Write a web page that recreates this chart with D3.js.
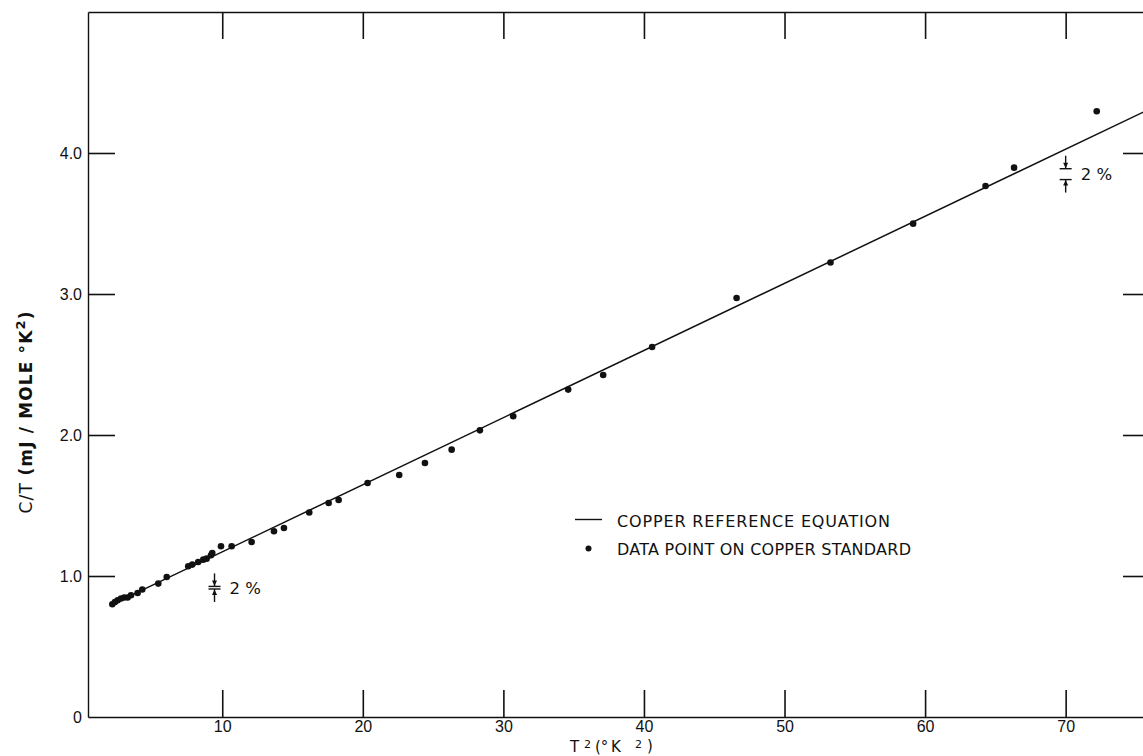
<!doctype html>
<html lang='en'>
<head>
    <meta charset='UTF-8'>
    <title>Copper C/T vs T2</title>
    <style>
        body{
            margin: 0;
            background: #fff;
        }
        svg{
            display: block;
            font-family: 'DejaVu Sans', sans-serif;
        }
        .axis path,
        .axis line{
            fill: none;
            stroke: #111;
            stroke-width: 1.4px;
        }
        .axis .tick line{
            stroke-width: 1.6px;
        }
        .tick text{
            font-size: 16px;
            fill: #111;
        }
        .ref{
            fill: none;
            stroke: #111;
            stroke-width: 1.5px;
        }
        .dot{
            fill: #111;
        }
        .note{
            fill: #111;
        }
    </style>
</head>
<body>
<script src='https://cdn.jsdelivr.net/npm/d3@7'></script>
<script>
  // data
  const t2 = [2.18, 2.37, 2.56, 2.80, 3.03, 3.27, 3.51, 3.98, 4.31, 5.45,
    6.05, 7.58, 7.87, 8.29, 8.65, 8.89, 9.20, 9.29, 9.91, 10.67,
    12.09, 13.68, 14.39, 16.19, 17.57, 18.28, 20.34, 22.59, 24.42, 26.32,
    28.33, 30.70, 34.61, 37.10, 40.58, 46.59, 53.27, 59.15, 64.30, 66.33, 72.21]
  const ct = [0.800, 0.816, 0.828, 0.840, 0.847, 0.847, 0.863, 0.879, 0.904, 0.946,
    0.993, 1.069, 1.081, 1.099, 1.116, 1.123, 1.147, 1.163, 1.211, 1.211,
    1.241, 1.317, 1.340, 1.450, 1.518, 1.539, 1.660, 1.716, 1.801, 1.896,
    2.033, 2.133, 2.322, 2.426, 2.624, 2.972, 3.223, 3.499, 3.766, 3.896, 4.296]

  // copper reference equation, end points
  const refT2 = [2.1, 76]
  const refCT = [0.795, 4.313]

  // 2 % scale markers
  const markT2 = [9.45, 70]
  const markCT = [0.917, 3.85]

  const xTicks = [10, 20, 30, 40, 50, 60, 70]
  const yTicks = [0, 1, 2, 3, 4]
  const yTickLabels = ['0', '1.0', '2.0', '3.0', '4.0']
  const legendLabels = ['COPPER REFERENCE EQUATION', 'DATA POINT ON COPPER STANDARD']

  const margin = {top: 12, left: 88}
  const width = 1062
  const height = 705

  const xScale = d3.scaleLinear()
    .domain([0.45, 76])
    .range([0, width])

  const yScale = d3.scaleLinear()
    .domain([0, 5])
    .range([height, 0])

  const tick = 27

  const svg = d3.select('body')
    .append('svg')
    .attr('width', 1143)
    .attr('height', 756)

  const g = svg.append('g')
    .attr('transform', `translate(${margin.left}, ${margin.top})`)

  g.append('g')
    .attr('class', 'x axis')
    .attr('transform', `translate(0, ${height})`)
    .call(d3.axisBottom(xScale).tickValues(xTicks)
      .tickSizeInner(-tick).tickSizeOuter(0).tickPadding(4))

  g.append('g')
    .attr('class', 'x axis')
    .call(d3.axisTop(xScale).tickValues(xTicks).tickFormat('')
      .tickSizeInner(-tick).tickSizeOuter(0))

  g.append('g')
    .attr('class', 'y axis')
    .call(d3.axisLeft(yScale).tickValues(yTicks)
      .tickFormat((d, i) => yTickLabels[i])
      .tickSizeInner(-tick).tickSizeOuter(0).tickPadding(6))

  g.append('g')
    .attr('class', 'y axis')
    .attr('transform', `translate(${width}, 0)`)
    .call(d3.axisRight(yScale).tickValues(yTicks).tickFormat('')
      .tickSizeInner(-tick).tickSizeOuter(0))

  // no inner mark for the 0 tick
  g.selectAll('.y.axis .tick').filter(d => d === 0).select('line').remove()

  // reference line
  const line = d3.line()
    .x(d => xScale(d[0]))
    .y(d => yScale(d[1]))

  g.append('path')
    .datum(refT2.map((v, i) => [v, refCT[i]]))
    .attr('class', 'ref')
    .attr('d', line)

  // data points
  g.selectAll('.dot')
    .data(t2.map((v, i) => [v, ct[i]]))
    .enter()
    .append('circle')
    .attr('class', 'dot')
    .attr('cx', d => xScale(d[0]))
    .attr('cy', d => yScale(d[1]))
    .attr('r', 3.3)

  // 2 % markers
  const arrowLen = 13
  markT2.forEach((mx, i) => {
    const cx = xScale(mx)
    const yTop = yScale(markCT[i] * 1.01)
    const yBot = yScale(markCT[i] * 0.99)
    const m = g.append('g').attr('class', 'note')
    m.append('line').attr('x1', cx - 6).attr('x2', cx + 6)
      .attr('y1', yTop).attr('y2', yTop).attr('stroke', '#111').attr('stroke-width', 1.4)
    m.append('line').attr('x1', cx - 6).attr('x2', cx + 6)
      .attr('y1', yBot).attr('y2', yBot).attr('stroke', '#111').attr('stroke-width', 1.4)
    m.append('line').attr('x1', cx).attr('x2', cx)
      .attr('y1', yTop - arrowLen).attr('y2', yTop).attr('stroke', '#111').attr('stroke-width', 1.4)
    m.append('line').attr('x1', cx).attr('x2', cx)
      .attr('y1', yBot).attr('y2', yBot + arrowLen).attr('stroke', '#111').attr('stroke-width', 1.4)
    m.append('path')
      .attr('d', `M${cx - 2.5},${yTop - 6}L${cx + 2.5},${yTop - 6}L${cx},${yTop - 0.5}Z`)
    m.append('path')
      .attr('d', `M${cx - 2.5},${yBot + 6}L${cx + 2.5},${yBot + 6}L${cx},${yBot + 0.5}Z`)
    m.append('text')
      .attr('x', cx + 15)
      .attr('y', (yTop + yBot) / 2 + 6)
      .style('font-size', '16.5px')
      .text('2 %')
  })

  // legend
  const lg = svg.append('g').attr('class', 'note')
  lg.append('line')
    .attr('x1', 575).attr('x2', 602)
    .attr('y1', 519.5).attr('y2', 519.5)
    .attr('stroke', '#111').attr('stroke-width', 1.4)
  lg.append('circle')
    .attr('cx', 588.5).attr('cy', 548.5).attr('r', 3)
  lg.selectAll('text')
    .data(legendLabels)
    .enter()
    .append('text')
    .attr('x', 617)
    .attr('y', (d, i) => 526.5 + i * 28)
    .attr('textLength', (d, i) => i === 0 ? 273 : 294)
    .attr('lengthAdjust', 'spacing')
    .style('font-size', '16px')
    .text(d => d)

  // axis titles
  const xt = svg.append('text')
    .attr('class', 'note')
    .attr('y', 752)
    .style('font-size', '15px')
  xt.append('tspan').attr('x', 570).text('T')
  xt.append('tspan').attr('x', 584).attr('dy', -4).style('font-size', '11px').text('2')
  xt.append('tspan').attr('x', 595).attr('dy', 4).text('(°')
  xt.append('tspan').attr('x', 611).text('K')
  xt.append('tspan').attr('x', 635).attr('dy', -4).style('font-size', '11px').text('2')
  xt.append('tspan').attr('x', 647).attr('dy', 3).text(')')

  const yt = svg.append('text')
    .attr('class', 'note')
    .attr('transform', 'translate(32, 412.5) rotate(-90)')
    .attr('text-anchor', 'middle')
    .attr('textLength', 202)
    .attr('lengthAdjust', 'spacing')
    .style('font-size', '17px')
  yt.append('tspan').text('C/T ')
  yt.append('tspan').style('font-weight', 'bold').text('(mJ / MOLE °K')
  yt.append('tspan').attr('dy', -7).style('font-weight', 'bold').style('font-size', '13px').text('2')
  yt.append('tspan').attr('dy', 7).style('font-weight', 'bold').text(')')

</script>
</body>
</html>
